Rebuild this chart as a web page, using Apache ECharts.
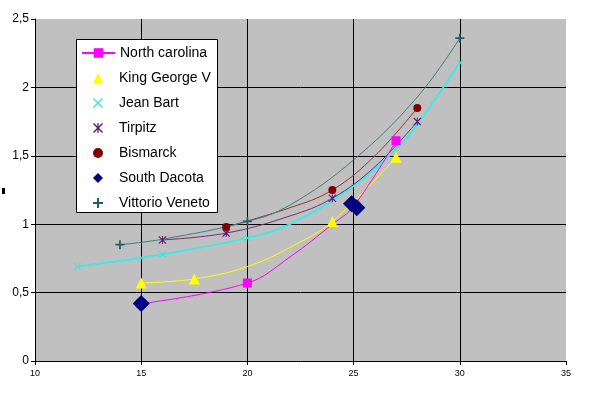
<!DOCTYPE html>
<html>
<head>
<meta charset="utf-8">
<script src="https://cdn.jsdelivr.net/npm/echarts@6/dist/echarts.min.js"></script>
<style>
  html, body { margin: 0; padding: 0; background: #fff; }
  #chart { width: 594px; height: 397px; }
</style>
</head>
<body>
<div id="chart"></div>
<script>
// ship names as in the legend
const ships = ['North carolina', 'King George V', 'Jean Bart', 'Tirpitz', 'Bismarck', 'South Dacota', 'Vittorio Veneto'];

// marker points [speed, value]
const northCarolina = [[15, 0.42], [20, 0.57], [25, 1.13], [27, 1.61]];
const kingGeorgeV = [[15, 0.57], [17.5, 0.6], [24, 1.02], [27, 1.49]];
const jeanBart = [[12, 0.69], [16, 0.78], [20, 0.9], [30, 2.18]];
const tirpitz = [[16, 0.885], [19, 0.935], [24, 1.19], [28, 1.75]];
const bismarck = [[19, 0.98], [24, 1.25], [28, 1.85]];
const southDacota = [[15, 0.42], [24.9, 1.15], [25.15, 1.12]];
const vittorioVeneto = [[14, 0.85], [20, 1.02], [30, 2.36]];

// curves
const ncCurve = [[15, 0.42], [20, 0.57], [22, 0.76], [24, 1.0], [25, 1.13], [27, 1.61]];
const kgvCurve = [[15, 0.57], [17.5, 0.6], [20, 0.69], [22, 0.83], [24, 1.02], [27, 1.49]];
const jbCurve = [[12, 0.69], [16, 0.78], [20, 0.9], [22, 1.0], [25, 1.28], [27, 1.55], [28, 1.73], [30, 2.18]];
const tirpitzCurve = [[16, 0.885], [19, 0.935], [22, 1.06], [24, 1.19], [26, 1.42], [28, 1.75]];
const bismarckCurve = [[19, 0.98], [22, 1.12], [24, 1.25], [26, 1.5], [28, 1.85]];
const vvCurve = [[14, 0.85], [16, 0.89], [20, 1.02], [22, 1.14], [25, 1.47], [28, 1.93], [30, 2.36]];

const xMin = 10, xMax = 35, xStep = 5;
const yMin = 0, yMax = 2.5, yStep = 0.5;

const plusPath = 'path://M4,0H6V4H10V6H6V10H4V6H0V4H4Z';
const crossPath = 'path://M1,0L5,4L9,0L10,1L6,5L10,9L9,10L5,6L1,10L0,9L4,5L0,1Z';
const starPath = 'path://M1,0L5,4L9,0L10,1L6,5L10,9L9,10L5,6L1,10L0,9L4,5L0,1Z M4.4,0H5.6V10H4.4Z';

const isMarker = (p, pts) => pts.some(q => q[0] === p[0] && q[1] === p[1]);

function trend(name, data, color, width) {
  return {
    name: name + ' trend', type: 'line', data: data, smooth: 0.4,
    symbol: 'none', lineStyle: { color: color, width: width }, z: 2, silent: true
  };
}
function marks(name, data, symbol, size, color, z) {
  return {
    name: name, type: 'scatter', data: data, symbol: symbol, symbolSize: size,
    itemStyle: { color: color, opacity: 1 }, z: z || 4
  };
}

const legendText = { fontSize: 14, color: '#000', fontFamily: 'Liberation Sans, Arial, sans-serif' };

let chart = echarts.init(document.getElementById('chart'));
chart.setOption({
  animation: false,
  textStyle: { fontFamily: 'Liberation Sans, Arial, sans-serif' },
  grid: {
    left: 35, right: 28, top: 19, bottom: 36,
    show: true, backgroundColor: '#c0c0c0', borderWidth: 0
  },
  legend: [
    {
      data: ships.slice(0, 1), z: 100,
      orient: 'vertical', left: 81, top: 46, padding: 0,
      itemWidth: 33, itemHeight: 12,
      textStyle: legendText
    },
    {
      data: ships.slice(1), z: 100,
      orient: 'vertical', left: 93, top: 71, padding: 0,
      itemWidth: 10, itemHeight: 10, itemGap: 11,
      textStyle: Object.assign({ padding: [0, 0, 0, 11] }, legendText)
    }
  ],
  graphic: [
    { type: 'rect', left: 76, top: 39, z: 90, shape: { width: 141, height: 173 },
      style: { fill: '#fff', stroke: '#000', lineWidth: 1 } },
    { type: 'rect', left: 2, top: 188, shape: { width: 3, height: 6 }, style: { fill: '#000' } }
  ],
  xAxis: {
    type: 'value', min: xMin, max: xMax, interval: xStep,
    axisLine: { show: true, onZero: false, lineStyle: { color: '#000', width: 1 } },
    axisTick: { show: true, length: 4, lineStyle: { color: '#000' } },
    axisLabel: { fontSize: 9, color: '#000', margin: 8 },
    splitLine: { show: true, showMinLine: false, showMaxLine: false, lineStyle: { color: '#000', width: 1 } }
  },
  yAxis: {
    type: 'value', min: yMin, max: yMax, interval: yStep,
    axisLine: { show: true, onZero: false, lineStyle: { color: '#000', width: 1 } },
    axisTick: { show: true, length: 4, lineStyle: { color: '#000' } },
    axisLabel: { fontSize: 12, color: '#000', margin: 6, formatter: v => String(v).replace('.', ',') },
    splitLine: { show: true, showMinLine: false, showMaxLine: false, lineStyle: { color: '#000', width: 1 } }
  },
  series: [
    {
      name: 'North carolina', type: 'line', smooth: 0.4, z: 3,
      symbol: 'rect', symbolSize: 9,
      data: ncCurve.map(p => ({ value: p, symbol: isMarker(p, northCarolina) ? 'rect' : 'none' })),
      lineStyle: { color: '#ff00ff', width: 1 },
      itemStyle: { color: '#ff00ff' }
    },
    trend('King George V', kgvCurve, '#ffff00', 1),
    trend('Jean Bart', jbCurve, '#40e8e8', 2),
    trend('Tirpitz', tirpitzCurve, '#7a2a7a', 1),
    trend('Bismarck', bismarckCurve, '#993333', 1),
    trend('Vittorio Veneto', vvCurve, '#3f7f7f', 1),
    marks('King George V', kingGeorgeV, 'triangle', 11, '#ffff00'),
    marks('Jean Bart', jeanBart, crossPath, 7, '#40e0e0'),
    marks('Tirpitz', tirpitz, starPath, 8, '#5a1a7a'),
    marks('Bismarck', bismarck, 'circle', 8, '#800000'),
    marks('South Dacota', southDacota, 'diamond', 17, '#000080', 6),
    marks('Vittorio Veneto', vittorioVeneto, plusPath, 9, '#206060')
  ]
});
</script>
</body>
</html>
